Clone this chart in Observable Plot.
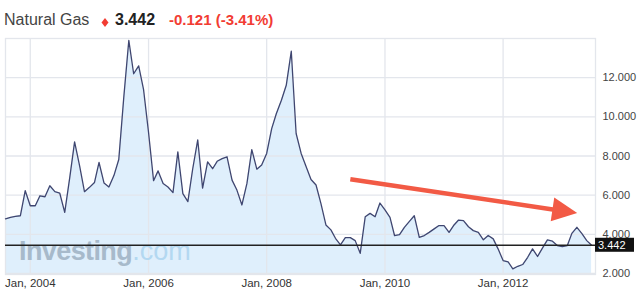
<!DOCTYPE html>
<html>
<head>
<meta charset="utf-8">
<script src="https://cdn.jsdelivr.net/npm/d3@7"></script>
<script src="https://cdn.jsdelivr.net/npm/@observablehq/plot@0.6"></script>
<style>
  html, body { margin: 0; padding: 0; background: #fff; }
  body { width: 640px; height: 291px; overflow: hidden; font-family: "Liberation Sans", Arial, sans-serif; }
  #header { display: block; }
  #chart svg { display: block; }
</style>
</head>
<body>
<svg id="header" width="640" height="32" xmlns="http://www.w3.org/2000/svg">
  <text x="4" y="25" font-size="16" fill="#444" font-family="Liberation Sans, Arial, sans-serif">Natural Gas</text>
  <polygon points="105,18 108.5,22.5 105,27 101.5,22.5" fill="#f23c32"></polygon>
  <text x="115" y="25" font-size="16" font-weight="bold" fill="#222" font-family="Liberation Sans, Arial, sans-serif">3.442</text>
  <text x="169" y="25" font-size="15" font-weight="bold" fill="#f23c32" font-family="Liberation Sans, Arial, sans-serif">-0.121 (-3.41%)</text>
</svg>
<div id="chart"></div>
<script>
// Monthly values (first of month), starting August 2003
const startYear = 2003, startMonth = 7; // August (0-based)
const values2003 = [4.79, 4.87, 4.92, 4.95, 6.23];
const values2004 = [5.46, 5.46, 5.97, 5.92, 6.48, 6.18, 6.11, 5.12, 6.9, 8.72, 7.5, 6.18];
const values2005 = [6.40, 6.65, 7.67, 6.62, 6.42, 7.0, 7.82, 11.0, 13.9, 12.2, 12.6, 11.4];
const values2006 = [9.2, 6.74, 7.24, 6.6, 6.42, 6.13, 8.21, 6.08, 5.67, 7.35, 8.82, 6.36];
const values2007 = [7.7, 7.35, 7.73, 7.87, 7.96, 6.77, 6.26, 5.5, 6.6, 8.33, 7.33, 7.54];
const values2008 = [8.13, 9.4, 10.17, 10.85, 11.61, 13.35, 9.15, 8.13, 7.45, 6.8, 6.52, 5.58];
const values2009 = [4.48, 4.23, 3.8, 3.46, 3.83, 3.83, 3.68, 3.03, 4.9, 5.07, 4.9, 5.6];
const values2010 = [5.25, 4.87, 3.94, 3.99, 4.36, 4.66, 4.95, 3.85, 3.94, 4.1, 4.28, 4.45];
const values2011 = [4.45, 4.1, 4.45, 4.73, 4.7, 4.39, 4.19, 4.1, 3.72, 3.94, 3.77, 3.26];
const values2012 = [2.66, 2.6, 2.24, 2.37, 2.46, 2.83, 3.26, 2.87, 3.31, 3.72, 3.65, 3.43];
const values2013 = [3.38, 3.43, 4.05, 4.36, 4.05, 3.68, 3.442];

const lastPrice = 3.442;
const yTicks = [2, 4, 6, 8, 10, 12];
const yGrid = [2, 4, 6, 8, 10, 12];
const xTickYears = [2004, 2006, 2008, 2010, 2012];
const xDomain = ["2003-08-01", "2013-07-25"];
const yDomain = [1.95, 14];
// Trend arrow annotation (date, value)
const arrowFrom = ["2009-06-04", 6.79];
const arrowTo = ["2013-04-06", 5.06];

const allValues = [].concat(values2003, values2004, values2005, values2006, values2007,
  values2008, values2009, values2010, values2011, values2012, values2013);
const data = allValues.map((v, i) => ({ date: new Date(Date.UTC(startYear, startMonth + i, 1)), value: v }));
const xTicks = xTickYears.map(y => new Date(Date.UTC(y, 0, 1)));

const W = 640, H = 259;
const plot = Plot.plot({
  width: W,
  height: H,
  marginLeft: 5,
  marginRight: 45,
  marginTop: 6,
  marginBottom: 17,
  style: { fontFamily: "Liberation Sans, Arial, sans-serif", fontSize: "11px", color: "#333", background: "transparent" },
  x: { type: "utc", domain: xDomain.map(d => new Date(d)), label: null },
  y: { domain: yDomain, label: null },
  marks: [
    Plot.areaY(data, { x: "date", y1: yDomain[0], y2: "value", fill: "#dfeffc", clip: true }),
    Plot.gridX(xTicks, { stroke: "#e3e6ec", strokeOpacity: 1, strokeWidth: 1.3 }),
    Plot.gridY(yGrid, { stroke: "#e3e6ec", strokeOpacity: 1, strokeWidth: 1.3 }),
    Plot.frame({ stroke: "#e3e6ec", strokeWidth: 1.3 }),
    Plot.axisX(xTicks, { tickSize: 0, tickPadding: 4, label: null, tickFormat: d => `Jan, ${d.getUTCFullYear()}`, fill: "#333", fontSize: 11.5 }),
    Plot.axisY(yTicks, { anchor: "right", tickSize: 0, tickPadding: 7, label: null, tickFormat: d3.format(".3f"), fill: "#444", fontSize: 11 }),
    Plot.line(data, { x: "date", y: "value", stroke: "#3f4670", strokeWidth: 1.3 }),
    Plot.ruleY([lastPrice], { stroke: "#222", strokeWidth: 1.5 })
  ]
});
document.getElementById("chart").appendChild(plot);

const svg = d3.select(plot);
const xs = plot.scale("x"), ys = plot.scale("y");

// Watermark logo behind the line and price rule
const logo = svg.append("text")
  .attr("x", 19).attr("y", H - 17 - 14)
  .attr("text-anchor", "start")
  .attr("font-family", "Liberation Sans, Arial, sans-serif")
  .attr("font-size", 27);
logo.append("tspan").attr("font-weight", "bold").attr("fill", "#a7bacb").attr("letter-spacing", "-0.6").text("Investing");
logo.append("tspan").attr("fill", "#b3d8f1").text(".com");
svg.selectAll('g[aria-label="line"], g[aria-label="rule"]').raise();

// Trend arrow
const p0 = [xs.apply(new Date(arrowFrom[0])), ys.apply(arrowFrom[1])];
const p1 = [xs.apply(new Date(arrowTo[0])), ys.apply(arrowTo[1])];
const dx = p1[0] - p0[0], dy = p1[1] - p0[1];
const len = Math.hypot(dx, dy);
const ux = dx / len, uy = dy / len, nx = -uy, ny = ux;
const L = 25, Wd = 12;
const bx = p1[0] - L * ux, by = p1[1] - L * uy;
svg.append("line").attr("x1", p0[0]).attr("y1", p0[1]).attr("x2", bx + ux * 2).attr("y2", by + uy * 2)
  .attr("stroke", "#f25a45").attr("stroke-width", 4.5);
svg.append("polygon")
  .attr("points", [[p1[0], p1[1]], [bx + nx * Wd, by + ny * Wd], [bx - nx * Wd, by - ny * Wd]].map(p => p.join(",")).join(" "))
  .attr("fill", "#f25a45");

// Last price box
const yl = ys.apply(lastPrice);
svg.append("rect").attr("x", W - 45).attr("y", yl - 7).attr("width", 39).attr("height", 14).attr("fill", "#111");
svg.append("text").attr("x", W - 42).attr("y", yl + 4).attr("text-anchor", "start").attr("fill", "#fff")
  .attr("font-family", "Liberation Sans, Arial, sans-serif").attr("font-size", 11).text("3.442");
</script>
</body>
</html>
